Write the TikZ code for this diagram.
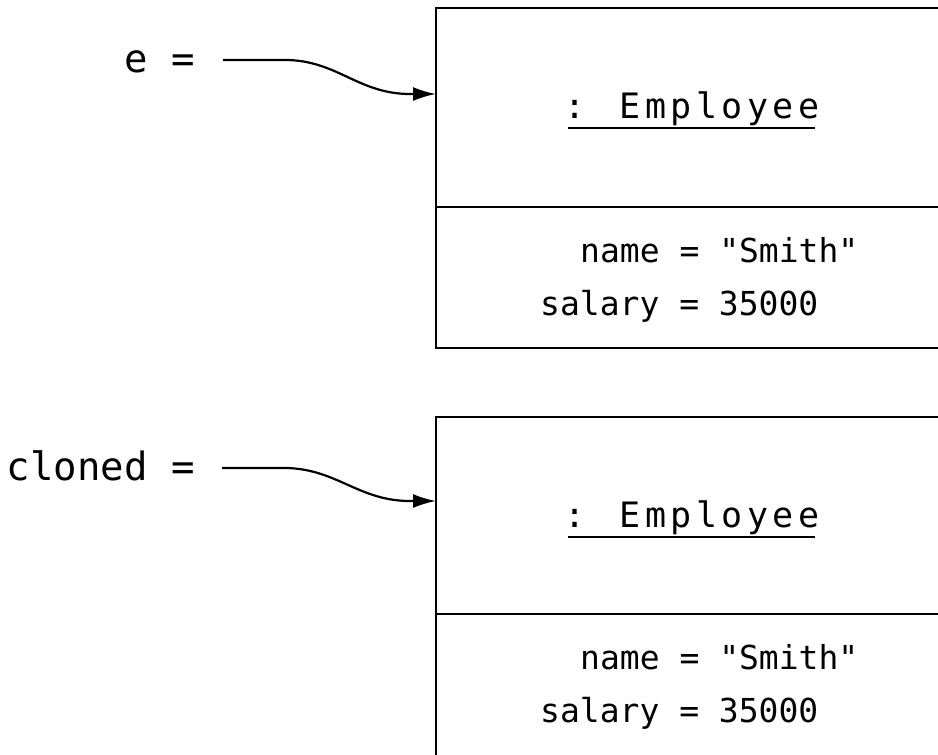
\documentclass[tikz,border=0pt]{standalone}
\usepackage{fontspec}
\setmonofont{DejaVu Sans Mono}
\newfontfamily\titlefont[LetterSpace=12.5]{DejaVu Sans Mono}
\usetikzlibrary{arrows.meta,calc}
\begin{document}
\begin{tikzpicture}[x=1pt,y=-1pt,
  frame/.style={draw=black, line width=2.4pt, inner sep=0pt, outer sep=0pt,
                anchor=north west, minimum width=600pt},
  varlabel/.style={font=\ttfamily\fontsize{39}{46}\selectfont, inner sep=0pt, anchor=base east},
  field/.style={font=\ttfamily\fontsize{33}{40}\selectfont, inner sep=0pt, anchor=base west},
  title/.style={font=\titlefont\fontsize{35}{42}\selectfont, inner sep=0pt, anchor=base},
  ref/.style={line width=2.2pt, -{Latex[length=23pt,width=14pt]}},
  rule/.style={line width=2.2pt}]
\useasboundingbox (0,0) rectangle (938,755);

% object boxes, running off the right and bottom edges
\begin{scope}
  \clip (0,0) rectangle (938,755);
  \node[frame, minimum height=340pt] (obj1) at (436,8) {};
  \node[frame, minimum height=400pt] (obj2) at (436,417) {};
  \draw[rule] (obj1.west |- 0,207) -- (obj1.east |- 0,207);
  \draw[rule] (obj2.west |- 0,614) -- (obj2.east |- 0,614);
\end{scope}

% class headings
\node[title] (t1) at (692,118) {: Employee};
\node[title] (t2) at (692,527) {: Employee};
\draw[rule] ($(t1.base west)+(3,10)$) -- ($(t1.base east)+(-4,10)$);
\draw[rule] ($(t2.base west)+(3,10)$) -- ($(t2.base east)+(-4,10)$);

% attribute values
\node[field] (n1) at (580,262) {name = "Smith"};
\node[field] (s1) at (540,315) {salary = 35000};
\node[field] (n2) at (580,669) {name = "Smith"};
\node[field] (s2) at (540,722) {salary = 35000};

% reference variables
\node[varlabel] (e) at (195,72) {e =};
\node[varlabel] (cl) at (195,480) {cloned =};
\coordinate (esrc) at (223,60);
\coordinate (csrc) at (222,468);

\draw[ref] (esrc) -- ++(62,0) .. controls +(52,0) and +(-52,0) ..
  ($(obj1.west |- 0,94)+(-26,0)$) -- (obj1.west |- 0,94);
\draw[ref] (csrc) -- ++(62,0) .. controls +(52,0) and +(-52,0) ..
  ($(obj2.west |- 0,501)+(-26,0)$) -- (obj2.west |- 0,501);
\end{tikzpicture}
\end{document}
